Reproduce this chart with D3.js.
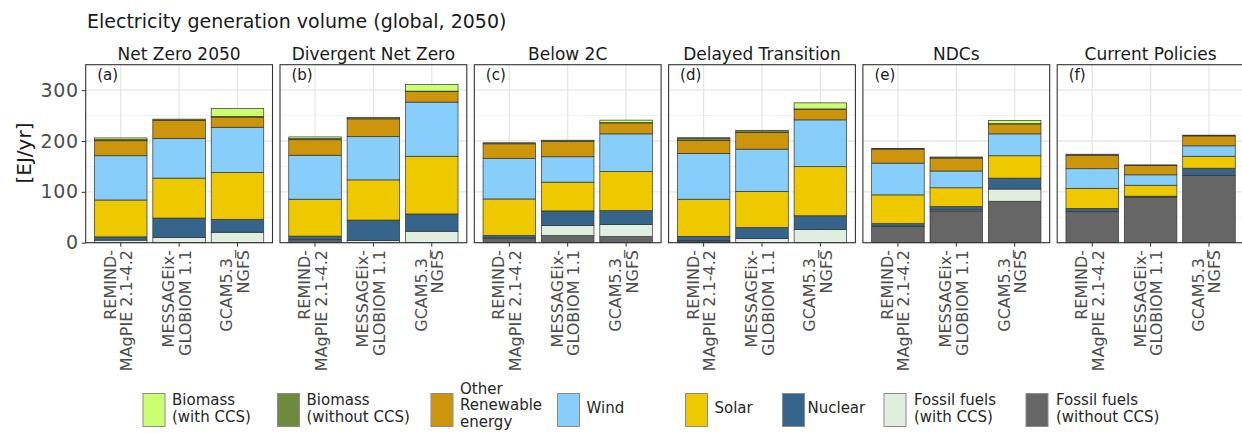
<!DOCTYPE html>
<html>
<head>
<meta charset="utf-8">
<script src="https://cdn.jsdelivr.net/npm/d3@7"></script>
<style>
  body { margin: 0; background: #fff; }
  svg { display: block; font-family: "DejaVu Sans", sans-serif; }
</style>
</head>
<body>
<svg id="chart" width="1242" height="433"></svg>
<script>
// Scenario facets, panel tags and model categories
const scenarios = ["Net Zero 2050", "Divergent Net Zero", "Below 2C", "Delayed Transition", "NDCs", "Current Policies"];
const panelTags = ["(a)", "(b)", "(c)", "(d)", "(e)", "(f)"];
const models = ["REMIND-MAgPIE 2.1-4.2", "MESSAGEix-GLOBIOM 1.1", "GCAM5.3_NGFS"];
const modelLabelLines = [["REMIND-", "MAgPIE 2.1-4.2"], ["MESSAGEix-", "GLOBIOM 1.1"], ["GCAM5.3_", "NGFS"]];
const yTicks = [0, 100, 200, 300];
const yMinor = [50, 150, 250];

// Generation by source [EJ/yr], one row per scenario, one value per model
const fossilNoCCS = [[0, 0, 0], [4, 0, 0], [8, 14, 12], [3, 0, 0], [32, 62.5, 81.5], [61, 89.5, 132]];
const fossilCCS   = [[5, 10.5, 20.5], [2, 4.5, 22.5], [1, 19.5, 23.5], [1, 8, 26], [0.5, 2, 24], [0, 0, 0]];
const nuclear     = [[6.5, 38, 25.5], [7, 40, 34], [5, 29, 27.5], [8.5, 22, 27], [5, 6.5, 21.5], [6.5, 2, 14.5]];
const solar       = [[72.5, 78.5, 92], [72.5, 79, 113.5], [72, 56.5, 77], [73, 71, 96.5], [56.5, 37, 44], [39.5, 21.5, 23.5]];
const wind        = [[87, 78, 89], [86.5, 85, 106.5], [80, 50, 74], [90, 83, 92], [62.5, 33, 43], [38.5, 20.5, 20.5]];
const otherRenew  = [[29.5, 35, 20], [30.5, 35, 21], [28.5, 30.5, 21.5], [25.5, 33, 21], [27.5, 25.5, 19.5], [26.5, 18, 19.5]];
const biomassNoCCS = [[2, 3, 1], [2, 3, 0.5], [2, 2, 0.5], [4, 4, 0.5], [1.5, 2, 0.5], [2, 1.5, 1.5]];
const biomassCCS  = [[3.5, 0, 16], [3.5, 0, 13], [0, 0, 5], [1.5, 0, 12], [0, 0, 6.5], [0, 0, 0]];

// Stack order, bottom to top
const seriesKeys = ["fossilNoCCS", "fossilCCS", "nuclear", "solar", "wind", "otherRenew", "biomassNoCCS", "biomassCCS"];
const seriesValues = { fossilNoCCS, fossilCCS, nuclear, solar, wind, otherRenew, biomassNoCCS, biomassCCS };
const seriesColors = {
  biomassCCS: "#caff70", biomassNoCCS: "#6e8b3d", otherRenew: "#cd950c", wind: "#87cefa",
  solar: "#eec900", nuclear: "#36648b", fossilCCS: "#e0eee0", fossilNoCCS: "#666666"
};
// Legend order, left to right
const legendKeys = ["biomassCCS", "biomassNoCCS", "otherRenew", "wind", "solar", "nuclear", "fossilCCS", "fossilNoCCS"];
const legendLabels = {
  biomassCCS: ["Biomass", "(with CCS)"], biomassNoCCS: ["Biomass", "(without CCS)"],
  otherRenew: ["Other", "Renewable", "energy"], wind: ["Wind"], solar: ["Solar"], nuclear: ["Nuclear"],
  fossilCCS: ["Fossil fuels", "(with CCS)"], fossilNoCCS: ["Fossil fuels", "(without CCS)"]
};
const legendKeyX = [143, 277.5, 431, 557.5, 685.5, 782.5, 884, 1026];
const legendTextGap = [7, 7, 7, 7, 7, 3, 8, 8];

const svg = d3.select("#chart");
svg.append("rect").attr("width", 1242).attr("height", 433).attr("fill", "#fff");

// Layout of facets
const panelLeft0 = 85.7, panelStep = 194.3, panelW = 186.8;
const panelTop = 64.7, panelBottom = 242.7;

const y = d3.scaleLinear().domain([0, 350]).range([panelBottom, panelTop]);
const x = d3.scaleBand().domain(models).range([0, panelW]).paddingInner(0.1).paddingOuter(0.15);

// Title
svg.append("text").attr("x", 87).attr("y", 28).attr("font-size", 19).attr("fill", "#1a1a1a")
  .text("Electricity generation volume (global, 2050)");

// Y axis title
svg.append("text").attr("transform", `translate(${31},${153}) rotate(-90)`)
  .attr("text-anchor", "middle").attr("font-size", 20).attr("fill", "#1a1a1a").text("[EJ/yr]");

const stack = d3.stack().keys(seriesKeys);

scenarios.forEach((scn, si) => {
  const px = panelLeft0 + si * panelStep;
  const g = svg.append("g").attr("transform", `translate(${px},0)`);

  // Facet strip label
  g.append("text").attr("x", panelW / 2).attr("y", 60).attr("text-anchor", "middle")
    .attr("font-size", 17).attr("fill", "#1a1a1a").text(scn);

  // Panel background and grid
  g.append("rect").attr("x", 0).attr("y", panelTop).attr("width", panelW).attr("height", panelBottom - panelTop)
    .attr("fill", "#fff");
  g.selectAll("line.minor").data(yMinor).join("line").attr("class", "minor")
    .attr("x1", 0).attr("x2", panelW).attr("y1", d => y(d)).attr("y2", d => y(d))
    .attr("stroke", "#f2f2f2").attr("stroke-width", 1);
  g.selectAll("line.major").data(yTicks).join("line").attr("class", "major")
    .attr("x1", 0).attr("x2", panelW).attr("y1", d => y(d)).attr("y2", d => y(d))
    .attr("stroke", "#e6e6e6").attr("stroke-width", 1.3);
  g.selectAll("line.vgrid").data(models).join("line").attr("class", "vgrid")
    .attr("x1", d => x(d) + x.bandwidth() / 2).attr("x2", d => x(d) + x.bandwidth() / 2)
    .attr("y1", panelTop).attr("y2", panelBottom)
    .attr("stroke", "#e6e6e6").attr("stroke-width", 1.3);

  // Stacked bars
  const rows = models.map((m, mi) => {
    const r = { model: m };
    seriesKeys.forEach(k => { r[k] = seriesValues[k][si][mi]; });
    return r;
  });
  const layers = stack(rows);
  g.selectAll("g.layer").data(layers).join("g").attr("class", "layer")
    .attr("fill", d => seriesColors[d.key])
    .selectAll("rect").data(d => d.filter(p => p[1] - p[0] > 0)).join("rect")
    .attr("x", d => x(d.data.model))
    .attr("width", x.bandwidth())
    .attr("y", d => y(d[1]))
    .attr("height", d => y(d[0]) - y(d[1]))
    .attr("stroke", "#333").attr("stroke-width", 0.7);

  // Panel border
  g.append("rect").attr("x", 0).attr("y", panelTop).attr("width", panelW).attr("height", panelBottom - panelTop)
    .attr("fill", "none").attr("stroke", "#333").attr("stroke-width", 1.1);

  // Panel tag
  g.append("text").attr("x", 11.5).attr("y", 80).attr("font-size", 15).attr("fill", "#1a1a1a").text(panelTags[si]);

  // X axis with two-line rotated labels
  const xa = g.append("g").attr("transform", `translate(0,${panelBottom})`)
    .call(d3.axisBottom(x).tickSize(4).tickFormat(""));
  xa.select(".domain").remove();
  xa.selectAll(".tick line").attr("stroke", "#333").attr("stroke-width", 1);
  models.forEach((m, mi) => {
    const cx = x(m) + x.bandwidth() / 2;
    const t = g.append("text")
      .attr("transform", `translate(${cx},${250}) rotate(-90)`)
      .attr("text-anchor", "end").attr("font-size", 16).attr("fill", "#4d4d4d");
    modelLabelLines[mi].forEach((line, li) => {
      t.append("tspan").attr("x", 0).attr("y", li === 0 ? -5 : 11.5).text(line);
    });
  });

  // Y axis on first facet only
  if (si === 0) {
    const ya = g.append("g").call(d3.axisLeft(y).tickValues(yTicks).tickSize(4).tickPadding(3));
    ya.select(".domain").remove();
    ya.selectAll(".tick line").attr("stroke", "#333");
    ya.selectAll(".tick text").attr("font-size", 19).attr("fill", "#4d4d4d")
      .attr("font-family", "DejaVu Sans, sans-serif").attr("letter-spacing", 0.6);
  }
});

// Legend
const lg = svg.append("g");
legendKeys.forEach((k, i) => {
  const kx = legendKeyX[i];
  lg.append("rect").attr("x", kx).attr("y", 393.5).attr("width", 22).attr("height", 33)
    .attr("fill", seriesColors[k]).attr("stroke", "#8c8c8c").attr("stroke-width", 1);
  const lines = legendLabels[k];
  const lh = lines.length > 2 ? 16.5 : 17;
  const midBaseline = lines.length > 2 ? 410 : 413;
  const startY = midBaseline - (lines.length - 1) * lh / 2;
  const t = lg.append("text").attr("font-size", 15).attr("fill", "#262626");
  lines.forEach((line, li) => {
    t.append("tspan").attr("x", kx + 22 + legendTextGap[i]).attr("y", startY + li * lh).text(line);
  });
});
</script>
</body>
</html>
